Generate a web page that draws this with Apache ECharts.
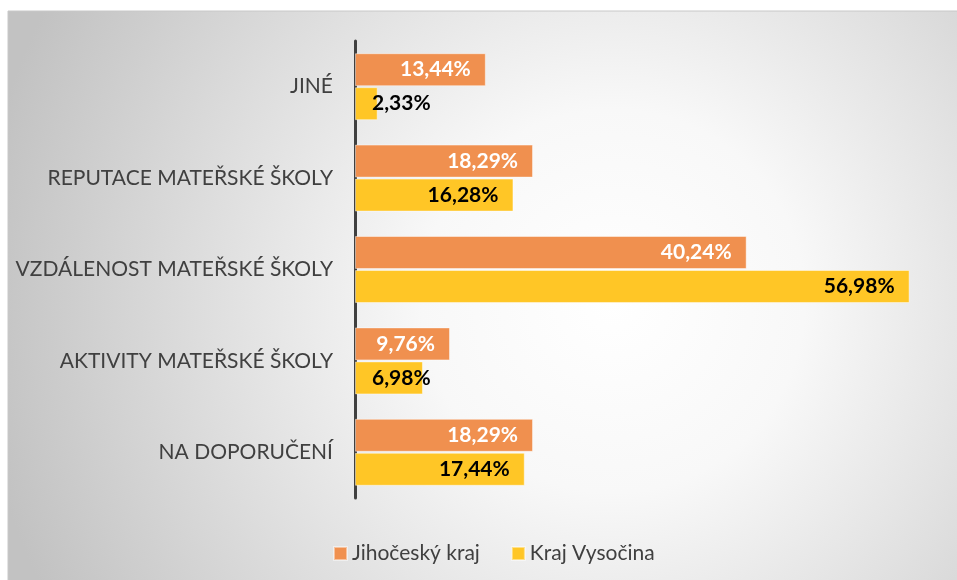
<!DOCTYPE html>
<html>
<head>
<meta charset="utf-8">
<script src="https://cdn.jsdelivr.net/npm/echarts@6/dist/echarts.min.js"></script>
<style>
  html, body { margin: 0; padding: 0; background: #fff; }
  #chart { width: 957px; height: 580px; }
</style>
</head>
<body>
<div id="chart"></div>
<script>
const categories = [
  'JINÉ',
  'REPUTACE MATEŘSKÉ ŠKOLY',
  'VZDÁLENOST MATEŘSKÉ ŠKOLY',
  'AKTIVITY MATEŘSKÉ ŠKOLY',
  'NA DOPORUČENÍ'
]
const seriesNames = ['Jihočeský kraj', 'Kraj Vysočina']
const jihocesky = [13.44, 18.29, 40.24, 9.76, 18.29]
const vysocina = [2.33, 16.28, 56.98, 6.98, 17.44]

const FONT = 'Lato'
const fmt = (v) => v.toFixed(2).replace('.', ',') + '%'

// short bars: label starts near the axis instead of ending inside the bar
const barData = (values) => values.map(v => v < 8
  ? { value: v, label: { position: 'insideLeft', distance: 17 } }
  : v)

const chart = echarts.init(document.getElementById('chart'))

chart.setOption({
  backgroundColor: '#ffffff',
  graphic: [{
    type: 'rect',
    z: -10,
    silent: true,
    shape: { x: 8, y: 11, width: 960, height: 580 },
    style: {
      fill: new echarts.graphic.RadialGradient(0.63, 0.5, 1.1, [
        { offset: 0, color: '#ffffff' },
        { offset: 0.3, color: '#f8f8f8' },
        { offset: 1, color: '#c2c2c2' }
      ]),
      stroke: '#c8c8c8',
      lineWidth: 1
    }
  }],
  grid: {
    left: 355,
    top: 41,
    width: 584,
    height: 457
  },
  legend: {
    data: seriesNames,
    top: 538,
    left: 328,
    icon: 'rect',
    itemWidth: 13,
    itemHeight: 13,
    itemGap: 31,
    textStyle: { fontFamily: FONT, fontSize: 21, color: '#404040' }
  },
  xAxis: {
    type: 'value',
    min: 0,
    max: 60,
    show: false
  },
  yAxis: {
    type: 'category',
    data: categories,
    inverse: true,
    axisLine: { lineStyle: { color: '#404040', width: 3 } },
    axisTick: { show: false },
    axisLabel: {
      margin: 22,
      fontFamily: FONT,
      fontSize: 21,
      color: '#404040'
    }
  },
  series: [
    {
      name: seriesNames[0],
      type: 'bar',
      data: barData(jihocesky),
      barWidth: 33,
      barGap: '3%',
      itemStyle: {
        color: '#f0904f',
        borderColor: 'rgba(255,255,255,0.45)',
        borderWidth: 1
      },
      label: {
        show: true,
        position: 'insideRight',
        distance: 15,
        formatter: (p) => fmt(p.value),
        fontFamily: FONT,
        fontSize: 21,
        fontWeight: 'bold',
        color: '#ffffff'
      }
    },
    {
      name: seriesNames[1],
      type: 'bar',
      data: barData(vysocina),
      barWidth: 33,
      itemStyle: {
        color: '#ffc626',
        borderColor: 'rgba(255,255,255,0.45)',
        borderWidth: 1
      },
      label: {
        show: true,
        position: 'insideRight',
        distance: 15,
        formatter: (p) => fmt(p.value),
        fontFamily: FONT,
        fontSize: 21,
        fontWeight: 'bold',
        color: '#000000'
      }
    }
  ]
})
</script>
</body>
</html>
